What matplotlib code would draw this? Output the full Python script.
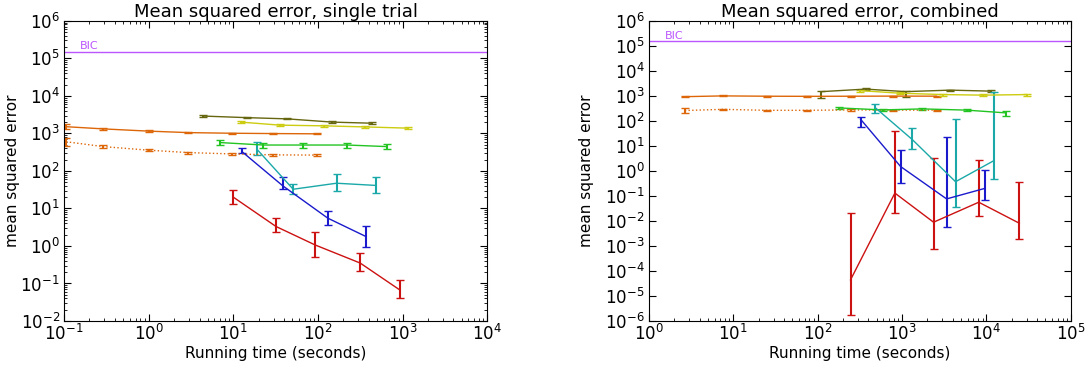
import numpy as np
import matplotlib
matplotlib.use('Agg')
import matplotlib.pyplot as plt

bic_value = 1.5e5

# ---- single trial (left) ----
s_red_x = [10, 32, 93, 316, 930]
s_red_y = [20, 3.3, 1.06, 0.35, 0.067]
s_red_lo = [13.4, 2.3, 0.50, 0.215, 0.040]
s_red_hi = [31, 5.5, 2.4, 0.64, 0.124]

s_blue_x = [12.6, 38.5, 131, 372]
s_blue_y = [330, 40, 5.5, 1.77]
s_blue_lo = [295, 32.6, 3.6, 0.96]
s_blue_hi = [417, 71, 8.7, 3.5]

s_cyan_x = [19, 51, 166, 490]
s_cyan_y = [380, 32.5, 47, 41]
s_cyan_lo = [270, 24.5, 29, 25.7]
s_cyan_hi = [590, 45, 83, 71]

s_green_x = [7, 22.7, 67, 223, 661]
s_green_y = [570, 490, 490, 490, 445]
s_green_lo = [490, 420, 420, 420, 380]
s_green_hi = [660, 570, 570, 570, 520]

s_olive_x = [4.4, 14.6, 43.6, 148, 435]
s_olive_y = [2900, 2630, 2440, 2000, 1870]
s_olive_lo = [2700, 2500, 2350, 1900, 1780]
s_olive_hi = [3100, 2760, 2540, 2100, 1960]

s_yellow_x = [12.3, 35.7, 119, 358, 1175]
s_yellow_y = [2000, 1660, 1590, 1490, 1380]
s_yellow_lo = [1900, 1580, 1510, 1420, 1320]
s_yellow_hi = [2100, 1740, 1670, 1560, 1440]

s_orange_x = [0.106, 0.29, 1.0, 2.95, 9.6, 29.7, 98]
s_orange_y = [1510, 1320, 1150, 1050, 1010, 990, 975]
s_orange_lo = [1320, 1260, 1100, 1010, 970, 950, 940]
s_orange_hi = [1780, 1380, 1200, 1090, 1050, 1030, 1010]

s_orange2_x = [0.106, 0.29, 1.0, 2.95, 9.6, 29.7, 98]
s_orange2_y = [600, 445, 357, 308, 284, 268, 264]
s_orange2_lo = [473, 410, 330, 290, 270, 255, 252]
s_orange2_hi = [740, 480, 385, 326, 298, 281, 276]

# ---- combined (right) ----
c_red_x = [245, 822, 2360, 8100, 24500]
c_red_y = [4.4e-5, 0.13, 0.0089, 0.056, 0.0081]
c_red_lo = [1.7e-6, 0.021, 7.4e-4, 0.016, 0.0019]
c_red_hi = [0.020, 41, 3.2, 2.75, 0.35]

c_blue_x = [322, 960, 3370, 9550]
c_blue_y = [117, 1.5, 0.076, 0.2]
c_blue_lo = [56, 0.32, 0.0059, 0.069]
c_blue_hi = [141, 6.9, 22, 1.1]

c_cyan_x = [480, 1320, 4300, 12300]
c_cyan_y = [340, 18, 0.37, 2.6]
c_cyan_lo = [204, 7.4, 0.035, 0.48]
c_cyan_hi = [490, 51, 117, 1480]

c_green_x = [178, 588, 1740, 5800, 17000]
c_green_y = [330, 275, 302, 270, 209]
c_green_lo = [290, 245, 270, 240, 160]
c_green_hi = [370, 305, 335, 300, 250]

c_olive_x = [111, 370, 1100, 3730, 11200]
c_olive_y = [1480, 1870, 1480, 1700, 1550]
c_olive_lo = [810, 1700, 890, 1600, 1460]
c_olive_hi = [1580, 2000, 1600, 1800, 1650]

c_yellow_x = [316, 940, 3070, 9150, 29900]
c_yellow_y = [1630, 1280, 1130, 1070, 1130]
c_yellow_lo = [1480, 1160, 1030, 970, 1030]
c_yellow_hi = [1790, 1400, 1240, 1180, 1240]

c_orange_x = [2.67, 7.5, 25, 74, 246, 785, 2560]
c_orange_y = [930, 1000, 970, 960, 970, 980, 975]
c_orange_lo = [880, 960, 930, 920, 930, 940, 935]
c_orange_hi = [980, 1040, 1010, 1000, 1010, 1020, 1015]

c_orange2_x = [2.67, 7.5, 25, 74, 246, 785, 2560]
c_orange2_y = [260, 290, 265, 265, 275, 270, 270]
c_orange2_lo = [200, 275, 250, 250, 260, 256, 256]
c_orange2_hi = [330, 305, 280, 280, 290, 285, 285]

RED = '#cc1111'
BLUE = '#1a1acc'
CYAN = '#1aa8a8'
GREEN = '#22c422'
OLIVE = '#666610'
YELLOW = '#cccc10'
ORANGE = '#dd6608'
PURPLE = '#bb55ff'


def err(y, lo, hi):
    y = np.array(y, dtype=float)
    return [y - np.array(lo), np.array(hi) - y]


def draw(ax, series):
    for x, y, lo, hi, c, ls in series:
        ax.errorbar(x, y, yerr=err(y, lo, hi), color=c, ls=ls, lw=1,
                    elinewidth=1.5, capsize=3, capthick=1)


def style(ax, ylab_x):
    ax.set_xscale('log')
    ax.set_yscale('log')
    ax.tick_params(which='both', direction='in', top=True, right=True,
                   labelsize=12)
    ax.tick_params(which='major', length=5)
    ax.tick_params(which='minor', length=2.5)
    ax.tick_params(axis='x', pad=2)
    ax.tick_params(axis='y', pad=3)
    ax.set_xlabel('Running time (seconds)', fontsize=11)
    ax.set_ylabel('mean squared error', fontsize=11)
    ax.xaxis.set_label_coords(0.5, -0.085)
    ax.yaxis.set_label_coords(ylab_x, 0.5)


fig = plt.figure(figsize=(10.85, 3.66), dpi=100)
ax1 = fig.add_axes([0.059, 0.123, 0.39, 0.820])
ax2 = fig.add_axes([0.598, 0.123, 0.389, 0.820])

draw(ax1, [
    (s_orange2_x, s_orange2_y, s_orange2_lo, s_orange2_hi, ORANGE, ':'),
    (s_orange_x, s_orange_y, s_orange_lo, s_orange_hi, ORANGE, '-'),
    (s_olive_x, s_olive_y, s_olive_lo, s_olive_hi, OLIVE, '-'),
    (s_yellow_x, s_yellow_y, s_yellow_lo, s_yellow_hi, YELLOW, '-'),
    (s_green_x, s_green_y, s_green_lo, s_green_hi, GREEN, '-'),
    (s_cyan_x, s_cyan_y, s_cyan_lo, s_cyan_hi, CYAN, '-'),
    (s_blue_x, s_blue_y, s_blue_lo, s_blue_hi, BLUE, '-'),
    (s_red_x, s_red_y, s_red_lo, s_red_hi, RED, '-'),
])
ax1.axhline(bic_value, color=PURPLE, lw=1)
ax1.text(0.037, bic_value * 1.2, 'BIC', color=PURPLE, fontsize=8,
         transform=ax1.get_yaxis_transform())
style(ax1, -0.105)
ax1.set_xlim(1e-1, 1e4)
ax1.set_ylim(1e-2, 1e6)
ax1.set_title('Mean squared error, single trial', fontsize=13, pad=2)

draw(ax2, [
    (c_orange2_x, c_orange2_y, c_orange2_lo, c_orange2_hi, ORANGE, ':'),
    (c_orange_x, c_orange_y, c_orange_lo, c_orange_hi, ORANGE, '-'),
    (c_olive_x, c_olive_y, c_olive_lo, c_olive_hi, OLIVE, '-'),
    (c_yellow_x, c_yellow_y, c_yellow_lo, c_yellow_hi, YELLOW, '-'),
    (c_green_x, c_green_y, c_green_lo, c_green_hi, GREEN, '-'),
    (c_cyan_x, c_cyan_y, c_cyan_lo, c_cyan_hi, CYAN, '-'),
    (c_blue_x, c_blue_y, c_blue_lo, c_blue_hi, BLUE, '-'),
    (c_red_x, c_red_y, c_red_lo, c_red_hi, RED, '-'),
])
ax2.axhline(bic_value, color=PURPLE, lw=1)
ax2.text(0.037, bic_value * 1.2, 'BIC', color=PURPLE, fontsize=8,
         transform=ax2.get_yaxis_transform())
style(ax2, -0.13)
ax2.set_xlim(1, 1e5)
ax2.set_ylim(1e-6, 1e6)
ax2.yaxis.set_major_locator(matplotlib.ticker.LogLocator(base=10, numticks=20))
ax2.set_title('Mean squared error, combined', fontsize=13, pad=2)

fig.savefig('out.png', dpi=100, facecolor='white')
